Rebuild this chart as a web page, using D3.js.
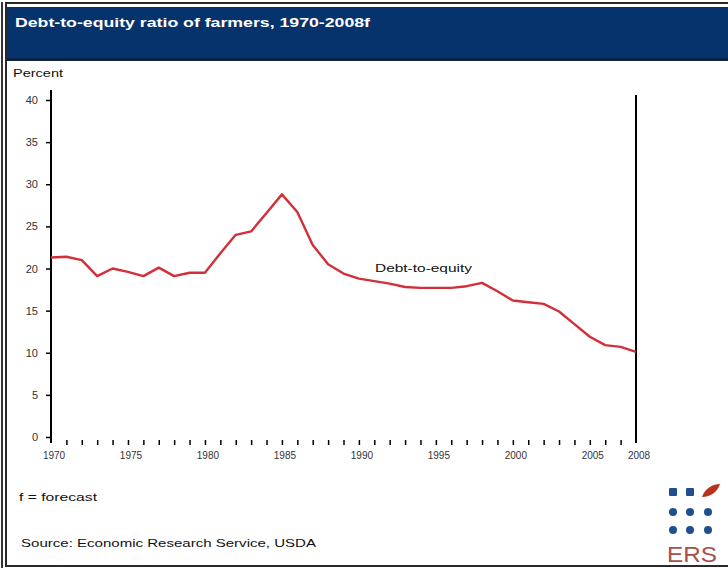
<!DOCTYPE html>
<html>
<head>
<meta charset="utf-8">
<script src="https://cdn.jsdelivr.net/npm/d3@7"></script>
<style>
	body { margin: 0; background: #fff; }
	svg { display: block; font-family: "Liberation Sans", Arial, sans-serif; }
</style>
</head>
<body>
<svg id="chart" width="728" height="568"></svg>
<script>
// data
var years = [1970, 1971, 1972, 1973, 1974, 1975, 1976, 1977, 1978, 1979,
	1980, 1981, 1982, 1983, 1984, 1985, 1986, 1987, 1988, 1989,
	1990, 1991, 1992, 1993, 1994, 1995, 1996, 1997, 1998, 1999,
	2000, 2001, 2002, 2003, 2004, 2005, 2006, 2007, 2008];
var debtToEquity = [21.3, 21.4, 21.0, 19.1, 20.0, 19.6, 19.1, 20.1, 19.1, 19.5,
	19.5, 21.8, 24.0, 24.4, 26.6, 28.8, 26.7, 22.8, 20.5, 19.4,
	18.8, 18.5, 18.2, 17.8, 17.7, 17.7, 17.7, 17.9, 18.3, 17.3,
	16.2, 16.0, 15.8, 14.9, 13.4, 11.9, 10.9, 10.7, 10.1];
var yTicks = [0, 5, 10, 15, 20, 25, 30, 35, 40];
var xLabels = [1970, 1975, 1980, 1985, 1990, 1995, 2000, 2005, 2008];
var xLabelText = ["1970", "1975", "1980", "1985", "1990", "1995", "2000", "2005", "2008"];

var svg = d3.select("#chart");

// helper: text stretched to the width seen in the picture
function label(x, y, str, size, width) {
	var t = svg.append("text")
		.attr("x", x).attr("y", y)
		.attr("font-size", size).attr("fill", "#111")
		.text(str);
	if (width) t.attr("textLength", width).attr("lengthAdjust", "spacingAndGlyphs");
	return t;
}

// ---- frame + title bar ----
svg.append("line").attr("x1", 2).attr("x2", 2).attr("y1", 2).attr("y2", 568)
	.attr("stroke", "#333").attr("stroke-width", 2);
svg.append("rect")
	.attr("x", 6).attr("y", 3).attr("width", 730).attr("height", 563)
	.attr("fill", "none").attr("stroke", "#2a2a2a").attr("stroke-width", 2);
svg.append("rect")
	.attr("x", 7).attr("y", 7).attr("width", 721).attr("height", 54)
	.attr("fill", "#06336b");
svg.append("rect")
	.attr("x", 7).attr("y", 58).attr("width", 721).attr("height", 3)
	.attr("fill", "#0a2448");
label(15, 27, "Debt-to-equity ratio of farmers, 1970-2008f", 13, 355)
	.attr("fill", "#fff").attr("font-weight", "bold");

// ---- scales ----
var x = d3.scaleLinear().domain([1970, 2008]).range([51, 636]);
var y = d3.scaleLinear().domain([0, 40]).range([437, 100]);

label(13, 77, "Percent", 11, 50);

// left axis
var yAxis = d3.axisLeft(y)
	.tickValues(yTicks)
	.tickSize(5)
	.tickPadding(8)
	.tickFormat(d3.format("d"));
var gy = svg.append("g")
	.attr("transform", "translate(51,0)")
	.call(yAxis);
gy.select(".domain").attr("d", "M0," + (y(40) - 10) + "V" + (y(0) + 6))
	.attr("stroke", "#000").attr("stroke-width", 2);
gy.selectAll(".tick line").attr("stroke", "#000").attr("stroke-width", 1.5);
gy.selectAll(".tick text").attr("font-size", 11).attr("fill", "#333")
	.attr("font-family", "Liberation Sans, Arial, sans-serif");

// right forecast line at 2008
svg.append("line")
	.attr("x1", x(2008)).attr("x2", x(2008))
	.attr("y1", y(40) - 5).attr("y2", y(0) + 6)
	.attr("stroke", "#000").attr("stroke-width", 2);

// bottom axis, no baseline, small year ticks
var xAxis = d3.axisBottom(x)
	.tickValues(years.slice(1, -1))
	.tickSize(5)
	.tickFormat("");
var gx = svg.append("g")
	.attr("transform", "translate(0," + (y(0) + 3) + ")")
	.call(xAxis);
gx.select(".domain").remove();
gx.selectAll(".tick line").attr("stroke", "#000").attr("stroke-width", 1.5);

svg.append("g").selectAll("text")
	.data(xLabels)
	.join("text")
	.attr("x", d => x(d) + 3)
	.attr("y", y(0) + 22)
	.attr("text-anchor", "middle")
	.attr("font-size", 10).attr("fill", "#333")
	.text((d, i) => xLabelText[i]);

// ---- series ----
var line = d3.line()
	.x((d, i) => x(years[i]))
	.y(d => y(d));
svg.append("path")
	.datum(debtToEquity)
	.attr("d", line)
	.attr("fill", "none")
	.attr("stroke", "#d32f38")
	.attr("stroke-width", 2.4)
	.attr("stroke-linejoin", "round");

label(375, 272, "Debt-to-equity", 11, 97);

// ---- footer ----
label(19, 501, "f = forecast", 11, 78);
label(21, 547, "Source: Economic Research Service, USDA", 11, 295);

// ERS logo
var logoCols = [673, 690, 708];
var logoRows = [492, 512, 530];
var logo = svg.append("g");
logoRows.forEach(function(ry, r) {
	logoCols.forEach(function(cx, c) {
		if (r === 0 && c === 2) return;
		logo.append("rect")
			.attr("x", cx - 4).attr("y", ry - 4)
			.attr("width", 8).attr("height", 8)
			.attr("rx", r === 0 ? 1 : 4)
			.attr("fill", "#1f4f8f");
	});
});
logo.append("path")
	.attr("d", "M702,497 C705,488 713,484 720,484 C718,491 711,497 702,497 Z")
	.attr("fill", "#b8321f");
svg.append("text")
	.attr("x", 667).attr("y", 562)
	.attr("font-size", 22).attr("fill", "#a84f4a")
	.attr("textLength", 50).attr("lengthAdjust", "spacingAndGlyphs")
	.text("ERS");
</script>
</body>
</html>
